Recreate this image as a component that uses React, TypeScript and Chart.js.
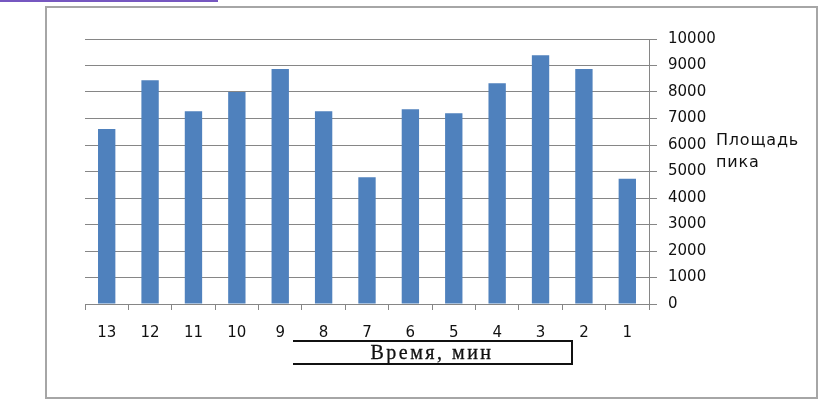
import React, { useEffect, useRef } from "react";
import { Chart, registerables } from "chart.js";

Chart.register(...registerables);

const categories: string[] = ["13", "12", "11", "10", "9", "8", "7", "6", "5", "4", "3", "2", "1"];
const peakArea: number[] = [6600, 8440, 7270, 8000, 8870, 7270, 4780, 7350, 7200, 8330, 9390, 8870, 4730];
const seriesName = "Площадь пика";
const axisTitle = "Время, мин";
const yMin = 0;
const yMax = 10000;
const yStep = 1000;

export default function App() {
  const canvasRef = useRef<HTMLCanvasElement | null>(null);

  useEffect(() => {
    const canvas = canvasRef.current;
    if (!canvas) return;
    const chart = new Chart(canvas, {
      type: "bar",
      data: {
        labels: categories,
        datasets: [
          {
            label: seriesName,
            data: peakArea,
            backgroundColor: "#4F81BD",
            borderWidth: 0,
            barPercentage: 1,
            categoryPercentage: 0.4,
          },
        ],
      },
      options: {
        responsive: false,
        animation: false,
        devicePixelRatio: 1,
        layout: { padding: { left: 85, top: 39, right: 0, bottom: 0 } },
        plugins: {
          legend: { display: false },
          tooltip: { enabled: false },
        },
        scales: {
          x: {
            grid: {
              display: true,
              drawOnChartArea: false,
              drawTicks: true,
              tickLength: 6,
              color: "#868686",
              offset: true,
            },
            border: { display: true, color: "#868686", width: 1 },
            ticks: {
              color: "#111",
              padding: 14,
              font: { family: "'DejaVu Sans', sans-serif", size: 15 },
              maxRotation: 0,
            },
            afterFit: (scale: any) => {
              scale.height = 102;
            },
          },
          y: {
            position: "right",
            min: yMin,
            max: yMax,
            grid: {
              color: "#868686",
              drawTicks: true,
              tickLength: 8,
            },
            border: { display: true, color: "#868686", width: 1 },
            ticks: {
              stepSize: yStep,
              color: "#111",
              padding: 11,
              font: { family: "'DejaVu Sans', sans-serif", size: 15 },
              callback: (value: any) => String(value),
            },
            afterFit: (scale: any) => {
              scale.width = 178;
            },
          },
        },
      },
    });
    return () => chart.destroy();
  }, []);

  return (
    <div style={{ position: "absolute", left: 0, top: 0, width: 827, height: 406, background: "#fff", overflow: "hidden" }}>
      <canvas ref={canvasRef} width={827} height={406} style={{ position: "absolute", left: 0, top: 0, width: 827, height: 406 }} />
      <div style={{ position: "absolute", left: 0, top: 0, width: 218, height: 2, background: "#7657c0" }} />
      <div
        style={{
          position: "absolute",
          left: 45,
          top: 6,
          width: 773,
          height: 393,
          border: "2px solid #a6a6a6",
          boxSizing: "border-box",
          pointerEvents: "none",
        }}
      />
      <div
        style={{
          position: "absolute",
          left: 716,
          top: 129,
          fontFamily: "'DejaVu Sans', sans-serif",
          fontSize: 16,
          lineHeight: "22px",
          letterSpacing: "0.8px",
          color: "#111",
          width: 100,
        }}
      >
        Площадь
        <br />
        пика
      </div>
      <div
        style={{
          position: "absolute",
          left: 293,
          top: 340,
          width: 280,
          height: 25,
          borderTop: "2px solid #111",
          borderBottom: "2px solid #111",
          borderRight: "2px solid #111",
          boxSizing: "border-box",
          fontFamily: "'Liberation Serif', serif",
          fontSize: 20,
          fontWeight: 500,
          letterSpacing: "2.5px",
          lineHeight: "21px",
          textAlign: "center",
          color: "#111",
          WebkitTextStroke: "0.3px #111",
        }}
      >
        {axisTitle}
      </div>
    </div>
  );
}
